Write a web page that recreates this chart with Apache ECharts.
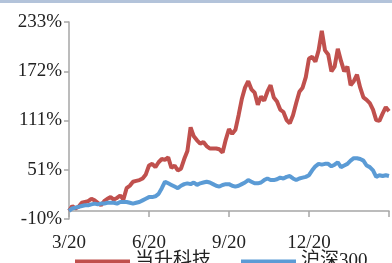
<!DOCTYPE html>
<html>
<head>
<meta charset="utf-8">
<script src="https://cdn.jsdelivr.net/npm/echarts@6/dist/echarts.min.js"></script>
<style>
  html, body { margin: 0; padding: 0; background: #fff; }
  #main { width: 392px; height: 263px; }
</style>
</head>
<body>
<div id="main"></div>
<script>
// 数据（从图上读取，单位 %）
const quarterLabels = ['3/20', '6/20', '9/20', '12/20', '']
const yTickLabels = ['-10%', '51%', '111%', '172%', '233%']
const seriesNames = ['当升科技', '沪深300']

const dangsheng = [
  0, 6, 3, 5, 10, 11, 12, 15, 13, 10,
  7, 12, 15, 17, 14, 16, 19, 14, 28, 31,
  36, 37, 38, 40, 45, 56, 58, 54, 60, 64,
  63, 66, 53, 56, 50, 52, 64, 74, 103, 92,
  87, 83, 85, 80, 77, 77, 77, 76, 72, 88,
  101, 95, 100, 118, 138, 152, 160, 150, 146, 131,
  141, 136, 147, 155, 140, 135, 125, 122, 112, 108,
  118, 133, 147, 152, 165, 188, 190, 184, 198, 222,
  198, 193, 172, 178, 200, 185, 172, 178, 155, 160,
  168, 152, 140, 137, 133, 125, 112, 111, 120, 128,
  123,
]
const hs300 = [
  0, 3, 4, 5, 6, 7, 7, 8, 9, 8,
  9, 9, 10, 10, 10, 9, 11, 11, 11, 10,
  9, 10, 11, 13, 15, 17, 17, 18, 21, 28,
  36, 34, 32, 30, 28, 31, 33, 34, 33, 35,
  32, 34, 35, 36, 35, 33, 31, 30, 32, 33,
  33, 31, 30, 31, 33, 35, 38, 36, 34, 34,
  35, 38, 40, 38, 38, 39, 41, 40, 42, 43,
  40, 38, 40, 41, 42, 44, 50, 55, 58, 57,
  58, 58, 55, 57, 60, 54, 56, 58, 62, 65,
  65, 64, 62, 56, 54, 50, 42, 44, 43, 44,
  43,
]

// 每季度一个标签
const step = 25
const categories = dangsheng.map((v, i) => (i % step === 0 ? quarterLabels[i / step] : ''))

let myChart = echarts.init(document.getElementById('main'))
const font = '"Liberation Serif", "Noto Sans CJK SC", serif'
const axisGray = '#a6a6a6'

let option = {
  animation: false,
  textStyle: { fontFamily: font },
  graphic: [
    {
      type: 'rect',
      shape: { x: 0, y: 0, width: 392, height: 3 },
      style: { fill: '#b3c3da' },
    },
  ],
  legend: {
    data: seriesNames,
    left: 70,
    top: 247,
    icon: 'rect',
    itemWidth: 55,
    itemHeight: 4,
    itemGap: 30,
    textStyle: { fontFamily: font, fontSize: 19, color: '#222' },
  },
  grid: {
    left: 69,
    right: 2,
    top: 22,
    bottom: 44,
    containLabel: false,
  },
  xAxis: {
    type: 'category',
    boundaryGap: false,
    data: categories,
    axisLine: { onZero: true, lineStyle: { color: axisGray, width: 1.5 } },
    axisTick: { interval: step - 1, length: 6, lineStyle: { color: axisGray, width: 1.5 } },
    axisLabel: {
      interval: step - 1,
      margin: 15,
      fontSize: 19,
      color: '#222',
      fontFamily: font,
    },
    splitLine: { show: false },
  },
  yAxis: {
    type: 'value',
    min: -10,
    max: 233,
    interval: 60.75,
    axisLine: { show: true, lineStyle: { color: axisGray, width: 1.5 } },
    axisTick: { show: true, length: 5, lineStyle: { color: axisGray, width: 1.5 } },
    axisLabel: {
      margin: 7,
      fontSize: 19,
      color: '#222',
      fontFamily: font,
      formatter: (v) => yTickLabels[Math.round((v + 10) / 60.75)],
    },
    splitLine: { show: false },
  },
  series: [
    {
      name: seriesNames[0],
      type: 'line',
      data: dangsheng,
      showSymbol: false,
      itemStyle: { color: '#c0504d' },
      lineStyle: { color: '#c0504d', width: 4 },
    },
    {
      name: seriesNames[1],
      type: 'line',
      data: hs300,
      showSymbol: false,
      itemStyle: { color: '#5b9bd5' },
      lineStyle: { color: '#5b9bd5', width: 4 },
    },
  ],
}
myChart.setOption(option)
</script>
</body>
</html>
